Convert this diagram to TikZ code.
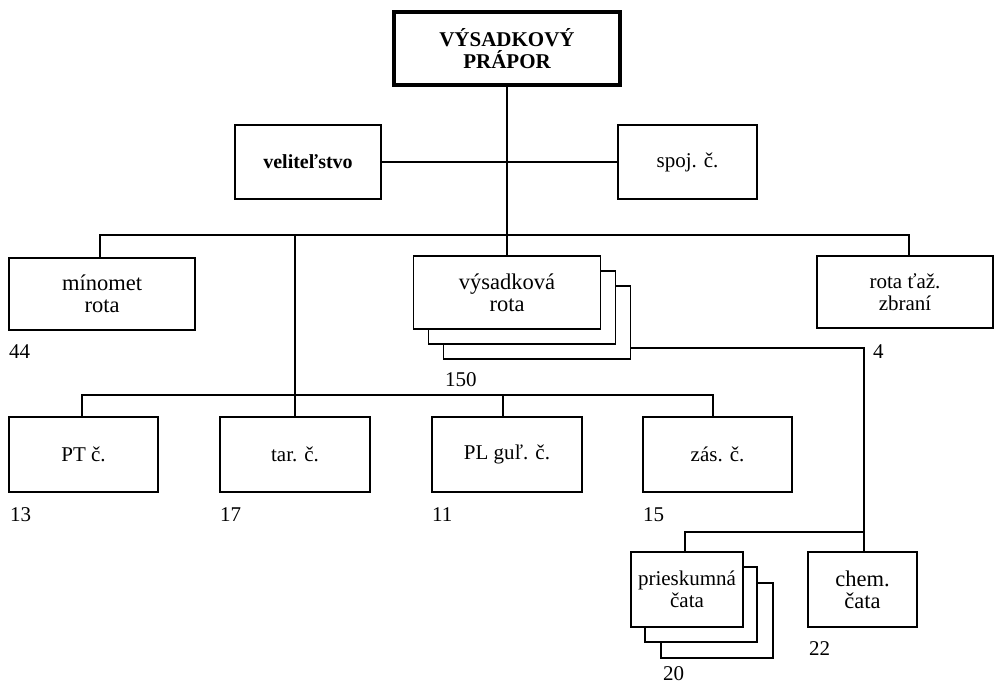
\documentclass[tikz,border=0pt]{standalone}
\usepackage{fontspec}
\setmainfont{Liberation Serif}
\begin{document}
\begin{tikzpicture}[x=1pt,y=-1pt,
  conn/.style={line width=1.7pt},
  box/.style={draw, line width=1.7pt, fill=white, inner sep=0pt, outer sep=0pt, align=center, font=\fontsize{21}{22}\selectfont},
  bigtxt/.style={font=\fontsize{22.5}{22}\selectfont},
  tbox/.style={draw, line width=4.5pt, fill=white, inner sep=0pt, outer sep=0pt, align=center, font=\bfseries\fontsize{21}{22}\selectfont},
  lbl/.style={anchor=west, inner sep=0pt, font=\fontsize{21}{22}\selectfont}]
\useasboundingbox (0,0) rectangle (1003,686);
% title
\node[tbox, minimum width=226, minimum height=73] (title) at (507,48.5) {VÝSADKOVÝ\\PRÁPOR};
% second row
\node[box, minimum width=146, minimum height=74, font=\bfseries\fontsize{20}{22}\selectfont] (vel) at (308,162) {veliteľstvo};
\node[box, minimum width=139, minimum height=74] (spoj) at (687.5,162) {spoj. č.};
% third row
\node[box, bigtxt, minimum width=186, minimum height=72] (mino) at (102,294) {mínomet\\rota};
\node[box, minimum width=187, minimum height=73] (vr3) at (537,322.5) {};
\node[box, minimum width=187, minimum height=73] (vr2) at (522,307.5) {};
\node[box, bigtxt, minimum width=187, minimum height=73] (vr) at (507,292.5) {výsadková\\rota};
\node[box, minimum width=176, minimum height=72] (rtz) at (905,292) {rota ťaž.\\zbraní};
% fourth row
\node[box, minimum width=149, minimum height=75] (pt) at (83.5,454.5) {PT č.};
\node[box, minimum width=150, minimum height=75] (tar) at (295,454.5) {tar. č.};
\node[box, minimum width=150, minimum height=75] (pl) at (507,454.5) {PL guľ. č.};
\node[box, minimum width=149, minimum height=75] (zas) at (717.5,454.5) {zás. č.};
% fifth row
\node[box, minimum width=112, minimum height=75] (pr3) at (717,620.5) {};
\node[box, minimum width=112, minimum height=75] (pr2) at (701,604.5) {};
\node[box, minimum width=112, minimum height=75] (pr) at (687,589.5) {prieskumná\\čata};
\node[box, bigtxt, minimum width=109, minimum height=75] (chem) at (862.5,589.5) {chem.\\čata};
% labels
\node[lbl] (n44) at (9,352) {44};
\node[lbl] (n150) at (445,380) {150};
\node[lbl] (n4) at (873,352) {4};
\node[lbl] (n13) at (10,515) {13};
\node[lbl] (n17) at (220,515) {17};
\node[lbl] (n11) at (432,515) {11};
\node[lbl] (n15) at (643,515) {15};
\node[lbl] (n22) at (809,649) {22};
\node[lbl] (n20) at (663,674) {20};
% connectors
\coordinate (m1) at (100,235);
\coordinate (m2) at (909,235);
\coordinate (m3) at (295,235);
\coordinate (l1) at (82,395);
\coordinate (l2) at (713,395);
\coordinate (l3) at (503,395);
\coordinate (r1) at (864,348);
\coordinate (r2) at (864,532);
\coordinate (r3) at (685,532);
\draw[conn] (title.south) -- (vr.north);
\draw[conn] (vel.east) -- (spoj.west);
\draw[conn] (mino.north -| m1) -- (m1) -- (m2) -- (rtz.north -| m2);
\draw[conn] (m3) -- (tar.north);
\draw[conn] (pt.north -| l1) -- (l1) -- (l2) -- (zas.north -| l2);
\draw[conn] (l3) -- (pl.north -| l3);
\draw[conn] (vr3.east |- r1) -- (r1) -- (r2);
\draw[conn] (pr.north -| r3) -- (r3) -- (r2) -- (chem.north -| r2);
\end{tikzpicture}
\end{document}
